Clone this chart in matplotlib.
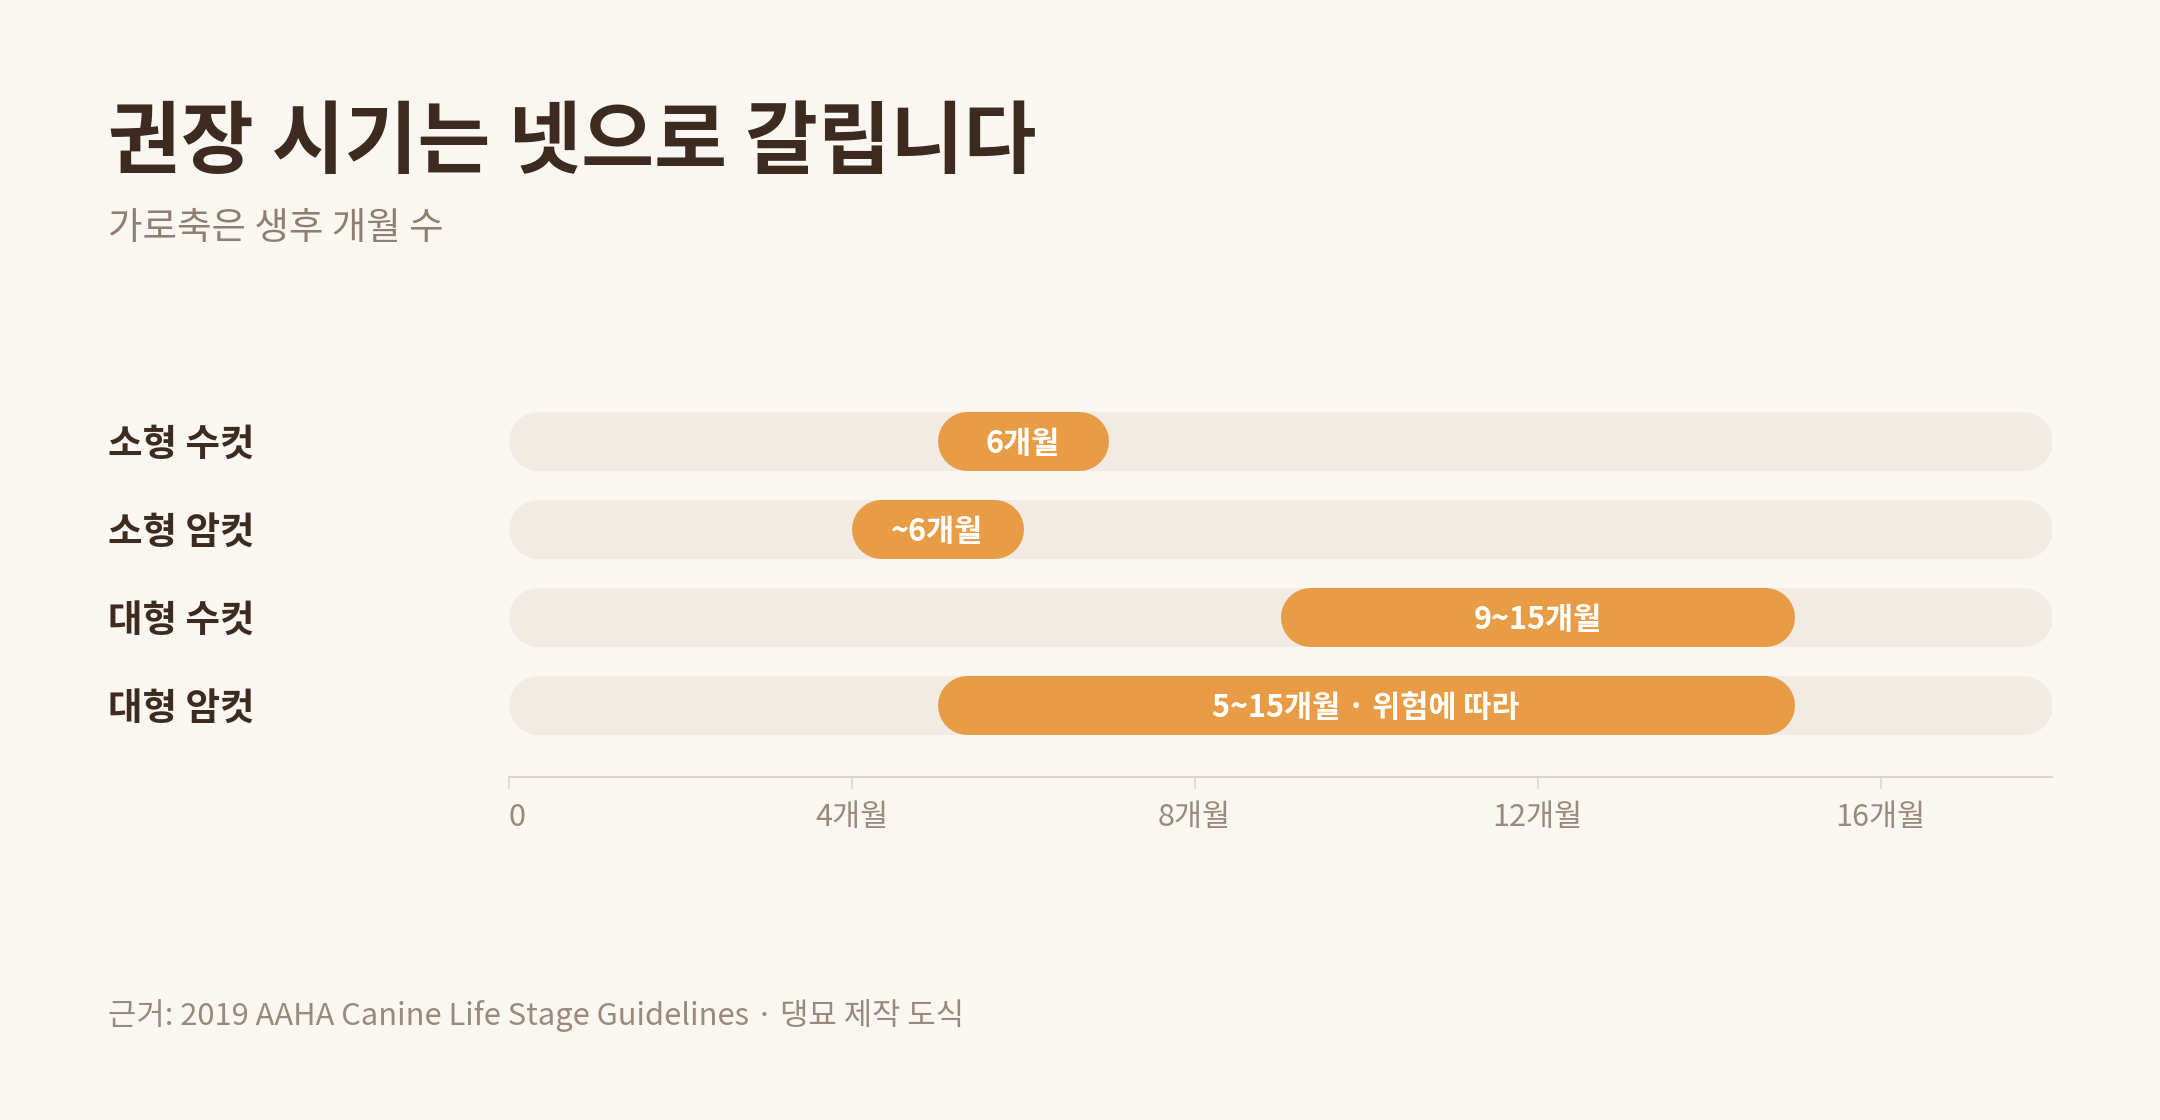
import matplotlib
matplotlib.use('Agg')
import matplotlib.pyplot as plt
from matplotlib.transforms import blended_transform_factory

plt.rcParams['font.family'] = ['Noto Sans CJK KR', 'DejaVu Sans']

# ---- data ----
categories = ['소형 수컷', '소형 암컷', '대형 수컷', '대형 암컷']
starts = [5, 4, 9, 5]
ends = [7, 6, 15, 15]
bar_labels = ['6개월', '~6개월', '9~15개월', '5~15개월 · 위험에 따라']
track_max = 18
tick_values = [0, 4, 8, 12, 16]
tick_labels = ['0', '4개월', '8개월', '12개월', '16개월']
title = '권장 시기는 넷으로 갈립니다'
subtitle = '가로축은 생후 개월 수'
footer = '근거: 2019 AAHA Canine Life Stage Guidelines · 댕묘 제작 도식'

# ---- style ----
BG = '#faf7f2'
TRACK = '#f2ebe4'
ORANGE = '#e89c46'
DARK = '#3d2b1f'
SUB = '#8f7f72'
MUTED = '#9a8a7c'
AXIS = '#ddd3c9'

W, H = 2160, 1120
DPI = 200
PT = 72 / DPI  # points per pixel

fig = plt.figure(figsize=(W / DPI, H / DPI), dpi=DPI, facecolor=BG)

ax_left, ax_right = 508.6, 2052
ax_top, ax_bottom = 400, 777
ax = fig.add_axes([ax_left / W, 1 - ax_bottom / H,
                   (ax_right - ax_left) / W, (ax_bottom - ax_top) / H])
ax.set_facecolor(BG)
row_pitch = 88
first_row = 441
ax.set_xlim(0, track_max)
ax.set_ylim((ax_bottom - first_row) / row_pitch, (ax_top - first_row) / row_pitch)

bar_px = 59
cap_r = (bar_px / 2) * track_max / (ax_right - ax_left)  # cap radius in months
lw = bar_px * PT
text_dy = 3 / row_pitch  # small downward nudge for optical centering

for i, (s, e, lab) in enumerate(zip(starts, ends, bar_labels)):
    ax.plot([0 + cap_r, track_max - cap_r], [i, i], color=TRACK, lw=lw,
            solid_capstyle='round', zorder=1)
    ax.plot([s + cap_r, e - cap_r], [i, i], color=ORANGE, lw=lw,
            solid_capstyle='round', zorder=2)
    ax.text((s + e) / 2, i + text_dy, lab, ha='center', va='center',
            color='white', fontsize=11, fontweight='bold', zorder=3)

trans = blended_transform_factory(fig.transFigure, ax.transData)
for i, c in enumerate(categories):
    ax.text(108 / W, i + text_dy, c, transform=trans, ha='left', va='center',
            color=DARK, fontsize=13.5, fontweight='bold')

for side in ['top', 'right', 'left']:
    ax.spines[side].set_visible(False)
ax.spines['bottom'].set_color(AXIS)
ax.spines['bottom'].set_linewidth(2 * PT)
ax.set_yticks([])
ax.set_xticks(tick_values, tick_labels)
ax.tick_params(axis='x', length=12 * PT, width=1.5 * PT, color=AXIS,
               labelcolor=MUTED, labelsize=11, pad=13 * PT)
ax.get_xticklabels()[0].set_ha('left')

fig.text(108 / W, 1 - 143 / H, title, ha='left', va='center', color=DARK,
         fontsize=28.5, fontweight='bold')
fig.text(108 / W, 1 - 229 / H, subtitle, ha='left', va='center', color=SUB,
         fontsize=13.5)
fig.text(108 / W, 1 - 1016 / H, footer, ha='left', va='center', color=MUTED,
         fontsize=11.1)

fig.savefig('out.png', dpi=DPI, facecolor=BG)
